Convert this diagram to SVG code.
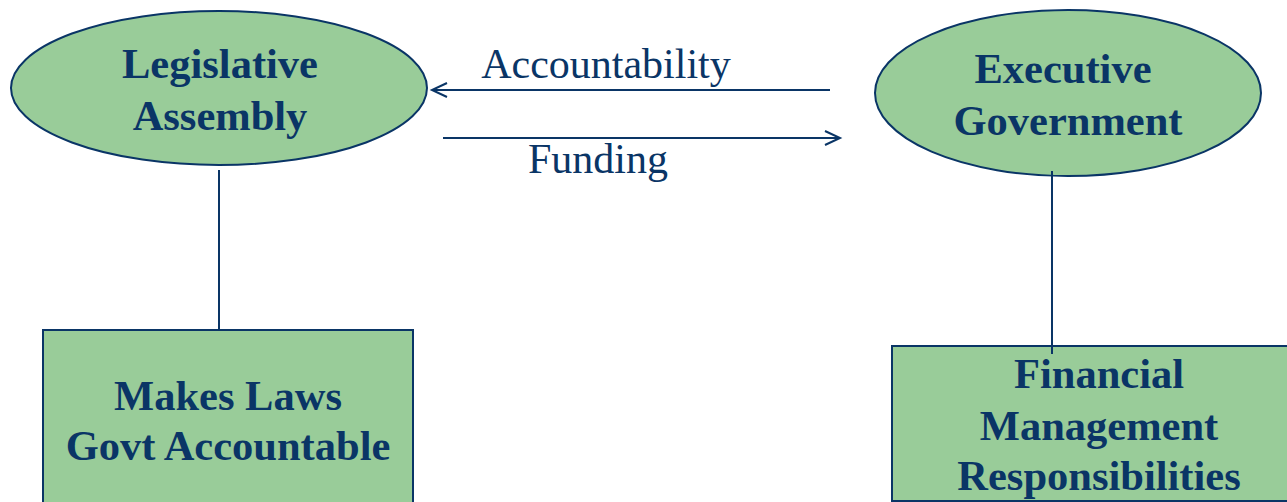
<svg xmlns="http://www.w3.org/2000/svg" width="1287" height="502" viewBox="0 0 1287 502">
<style>
.shape{fill:#99cc99;stroke:#0a3566;stroke-width:2}
.lbl{font-family:"Liberation Serif","Times New Roman",serif;font-weight:bold;font-size:42.5px;fill:#0a3566;text-anchor:middle}
.edge{font-family:"Liberation Serif","Times New Roman",serif;font-size:42px;fill:#0a3566;text-anchor:middle}
.conn{stroke:#0a3566;stroke-width:2;fill:none}
</style>
<defs>
<marker id="open" markerWidth="20" markerHeight="20" refX="16" refY="8" orient="auto" markerUnits="userSpaceOnUse">
<path d="M1,1 L16,8 L1,15" fill="none" stroke="#0a3566" stroke-width="2"/>
</marker>
</defs>
<rect width="1287" height="502" fill="#ffffff"/>
<g id="legislative">
<ellipse class="shape" cx="219" cy="88" rx="208" ry="77"/>
<text class="lbl" x="220" y="78">Legislative</text>
<text class="lbl" x="220" y="130">Assembly</text>
</g>
<g id="executive">
<ellipse class="shape" cx="1068" cy="93" rx="193" ry="83"/>
<text class="lbl" x="1063" y="83">Executive</text>
<text class="lbl" x="1068" y="135">Government</text>
</g>
<g id="makeslaws">
<rect class="shape" x="43" y="330" width="370" height="190"/>
<text class="lbl" x="228" y="410">Makes Laws</text>
<text class="lbl" x="228" y="460">Govt Accountable</text>
</g>
<g id="financial">
<rect class="shape" x="892" y="346" width="400" height="155"/>
<text class="lbl" x="1099" y="388">Financial</text>
<text class="lbl" x="1099" y="440">Management</text>
<text class="lbl" x="1099" y="490">Responsibilities</text>
</g>
<g id="connectors">
<line class="conn" x1="219" y1="170" x2="219" y2="330"/>
<line class="conn" x1="1052" y1="171" x2="1052" y2="354"/>
<line class="conn" x1="830" y1="90" x2="432" y2="90" marker-end="url(#open)"/>
<line class="conn" x1="443" y1="138" x2="840" y2="138" marker-end="url(#open)"/>
<text class="edge" x="606" y="78">Accountability</text>
<text class="edge" x="598" y="173">Funding</text>
</g>
</svg>
